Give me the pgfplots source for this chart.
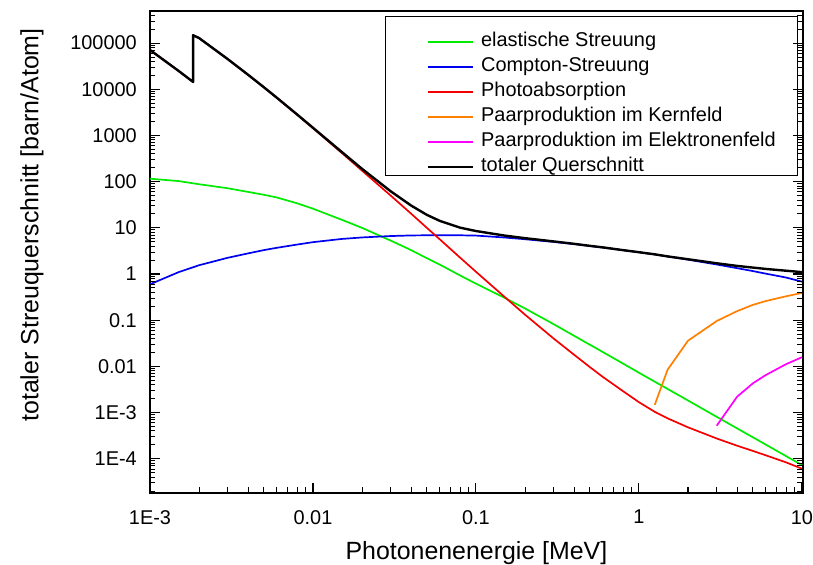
\documentclass[border=0pt]{standalone}
\usepackage{pgfplots}
\pgfplotsset{compat=1.18}
\usepackage{fontspec}
\setmainfont{Liberation Sans}

\definecolor{cElast}{RGB}{0,235,0}
\definecolor{cCompton}{RGB}{0,0,240}
\definecolor{cPhoto}{RGB}{245,0,0}
\definecolor{cPaarK}{RGB}{255,128,0}
\definecolor{cPaarE}{RGB}{255,0,255}

\begin{document}
\begin{tikzpicture}
\begin{axis}[
  at={(0,0)}, anchor=south west,
  scale only axis, width=653bp, height=482bp,
  xmode=log, ymode=log,
  xmin=1e-3, xmax=10.14, ymin=1.82e-5, ymax=4.96e5,
  xtick={1e-3,1e-2,1e-1,1,10},
  xticklabels={1E-3,0.01,0.1,1,10},
  ytick={1e-4,1e-3,1e-2,1e-1,1,10,100,1000,10000,100000},
  yticklabels={1E-4,1E-3,0.01,0.1,1,10,100,1000,10000,100000},
  xtick pos=left, ytick pos=both,
  tickwidth=10bp, subtickwidth=5.5bp,
  major tick style={black, line width=1.1bp},
  minor tick style={black, line width=1bp},
  axis line style={line width=1.2bp},
  tick label style={font=\fontsize{20}{24}\selectfont},
  yticklabel style={anchor=east, inner sep=0pt, xshift=-13bp},
  xticklabel style={anchor=north, inner sep=0pt, yshift=-17bp},
  xlabel={Photonenenergie [MeV]},
  ylabel={totaler Streuquerschnitt [barn/Atom]},
  label style={font=\fontsize{25}{30}\selectfont},
  xlabel style={at={(rel axis cs:0.5,0)}, anchor=north, inner sep=0pt, yshift=-48bp},
  ylabel style={at={(rel axis cs:0,0.556)}, anchor=center, inner sep=0pt, yshift=118bp},
  legend cell align=left,
  legend image code/.code={\draw[#1, line width=2bp] (0bp,0bp) -- (45bp,0bp);},
  legend style={draw=none, fill=none, at={(rel axis cs:0.4242,0.956)}, anchor=north west,
    inner sep=0pt, column sep=7bp, row sep=6bp,
    font=\fontsize{20}{24}\selectfont,
    nodes={inner xsep=0pt, inner ysep=0pt, text height=14.5bp, text depth=4.5bp}},
  every axis plot/.append style={line width=1.7bp, line join=round},
]
% elastische (kohaerente) Streuung
\addplot[cElast] table {
0.001 116
0.0015 103
0.002 88
0.003 72
0.004 60
0.005 52
0.006 45.5
0.008 34
0.01 26
0.015 15
0.02 10
0.03 5.3
0.04 3.3
0.05 2.2
0.06 1.6
0.08 0.93
0.1 0.62
0.15 0.305
0.2 0.18
0.3 0.082
0.4 0.046
0.5 0.0295
0.6 0.0205
0.8 0.0115
1 0.0073
1.5 0.00325
2 0.00183
3 0.00081
4 0.000456
5 0.000292
6 0.000203
8 0.000114
10 0.000073
};
\addlegendentry{elastische Streuung}
% Compton-Streuung
\addplot[cCompton] table {
0.001 0.6
0.0015 1.1
0.002 1.55
0.003 2.25
0.004 2.8
0.005 3.3
0.006 3.7
0.008 4.35
0.01 4.9
0.015 5.75
0.02 6.2
0.03 6.65
0.04 6.85
0.05 6.9
0.06 6.92
0.08 6.9
0.1 6.8
0.15 6.18
0.2 5.67
0.3 4.96
0.4 4.45
0.5 4.04
0.6 3.75
0.8 3.28
1 2.96
1.25 2.66
1.5 2.40
2 2.05
3 1.61
4 1.34
5 1.16
6 1.02
8 0.84
10 0.684
};
\addlegendentry{Compton-Streuung}
% Photoabsorption (mit K-Kante)
\addplot[cPhoto] table {
0.001 71000
0.0015 24860
0.001839 14340
0.001839 148100
0.002 128800
0.003 45000
0.004 20570
0.005 11010
0.006 6534
0.008 2808
0.01 1440
0.015 420.7
0.02 173.5
0.03 49.9
0.04 20.3
0.05 10.0
0.06 5.64
0.08 2.26
0.1 1.12
0.15 0.319
0.2 0.132
0.3 0.040
0.4 0.0179
0.5 0.00966
0.6 0.00593
0.8 0.00290
1 0.00168
1.25 0.00104
1.5 0.00075
2 0.00048
3 0.000275
4 0.000192
5 0.000148
6 0.000119
8 0.0000835
10 0.000061
};
\addlegendentry{Photoabsorption}
% Paarproduktion im Kernfeld
\addplot[cPaarK] table {
1.25 0.00147
1.5 0.0085
2 0.036
3 0.096
4 0.157
5 0.215
6 0.26
8 0.33
10 0.39
};
\addlegendentry{Paarproduktion im Kernfeld}
% Paarproduktion im Elektronenfeld
\addplot[cPaarE] table {
3 0.00052
4 0.0022
5 0.0043
6 0.0065
8 0.0112
10 0.0158
};
\addlegendentry{Paarproduktion im Elektronenfeld}
% Summe aller Beitraege
\addplot[black, line width=2.4bp] table {
0.001 71117
0.0015 24964
0.001839 14432
0.001839 148192
0.002 128890
0.003 45074
0.004 20633
0.005 11065
0.006 6583
0.008 2846
0.01 1471
0.015 441.5
0.02 189.7
0.03 61.85
0.04 30.45
0.05 19.1
0.06 14.16
0.08 10.09
0.1 8.54
0.15 6.80
0.2 5.98
0.3 5.08
0.4 4.51
0.5 4.08
0.6 3.78
0.8 3.29
1 2.97
1.25 2.67
1.5 2.41
2 2.09
3 1.71
4 1.50
5 1.38
6 1.29
8 1.18
10 1.10
};
\addlegendentry{totaler Querschnitt}
% legend frame
\filldraw[fill=white, draw=black, line width=1bp]
  (rel axis cs:0.3614,0.6577) rectangle (rel axis cs:0.9923,0.9896);
% inward tick marks, bottom edge (10bp = factor 1.646, 5.5bp = factor 1.316 in y)
\pgfplotsinvokeforeach{1e-3,1e-2,1e-1,1,10}{
  \draw[line width=1.1bp] (axis cs:#1,1.82e-5) -- (axis cs:#1,2.996e-5);}
\pgfplotsinvokeforeach{2e-3,3e-3,4e-3,5e-3,6e-3,7e-3,8e-3,9e-3,
    2e-2,3e-2,4e-2,5e-2,6e-2,7e-2,8e-2,9e-2,
    0.2,0.3,0.4,0.5,0.6,0.7,0.8,0.9,2,3,4,5,6,7,8,9}{
  \draw[line width=1bp] (axis cs:#1,1.82e-5) -- (axis cs:#1,2.395e-5);}
% inward tick marks, left and right edges (10bp = factor 1.152, 5.5bp = factor 1.081 in x)
\pgfplotsinvokeforeach{1e-4,1e-3,1e-2,1e-1,1,10,100,1000,10000,100000}{
  \draw[line width=1.1bp] (axis cs:1e-3,#1) -- (axis cs:1.152e-3,#1);
  \draw[line width=1.1bp] (axis cs:10.14,#1) -- (axis cs:8.80,#1);}
\pgfplotsinvokeforeach{2e-5,3e-5,4e-5,5e-5,6e-5,7e-5,8e-5,9e-5,
    2e-4,3e-4,4e-4,5e-4,6e-4,7e-4,8e-4,9e-4,
    2e-3,3e-3,4e-3,5e-3,6e-3,7e-3,8e-3,9e-3,
    2e-2,3e-2,4e-2,5e-2,6e-2,7e-2,8e-2,9e-2,
    0.2,0.3,0.4,0.5,0.6,0.7,0.8,0.9,2,3,4,5,6,7,8,9,
    20,30,40,50,60,70,80,90,200,300,400,500,600,700,800,900,
    2000,3000,4000,5000,6000,7000,8000,9000,
    20000,30000,40000,50000,60000,70000,80000,90000,
    200000,300000,400000}{
  \draw[line width=1bp] (axis cs:1e-3,#1) -- (axis cs:1.081e-3,#1);
  \draw[line width=1bp] (axis cs:10.14,#1) -- (axis cs:9.38,#1);}
\end{axis}
% canvas around the axis box
\path (-150bp,-72bp) rectangle (663bp,493bp);
\end{tikzpicture}
\end{document}
